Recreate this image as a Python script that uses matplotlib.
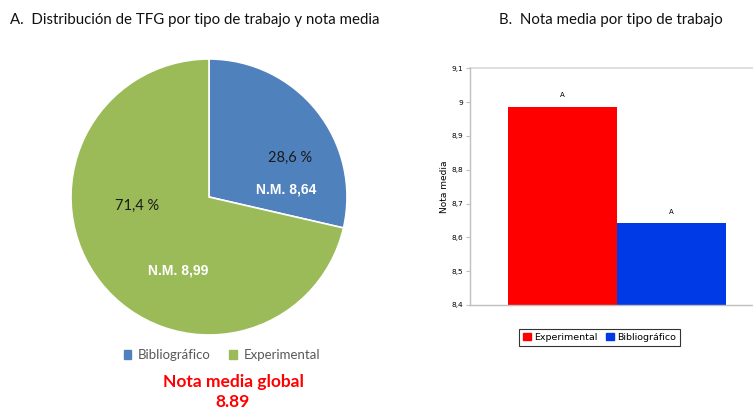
import matplotlib.pyplot as plt
from matplotlib.patches import Patch

# pie data
tipos = ["Bibliográfico", "Experimental"]
porcentajes = [28.6, 71.4]
notas_pie = ["8,64", "8,99"]
pie_colors = ["#4F81BD", "#9BBB59"]

# bar data
bar_cats = ["Experimental", "Bibliográfico"]
bar_vals = [8.987, 8.642]
bar_letters = ["A", "A"]
bar_colors = ["#FF0000", "#0039E6"]
yticks = [8.4, 8.5, 8.6, 8.7, 8.8, 8.9, 9.0, 9.1]
ytick_labels = ["8,4", "8,5", "8,6", "8,7", "8,8", "8,9", "9", "9,1"]

W, H = 753, 409
fig = plt.figure(figsize=(W / 100, H / 100), dpi=100)
plt.rcParams["font.family"] = ["Lato", "DejaVu Sans"]


def px(x, y, w, h):
    return [x / W, 1 - (y + h) / H, w / W, h / H]


# ---- A: pie ----
ax = fig.add_axes(px(71, 59, 276, 276))
ax.pie(porcentajes, colors=pie_colors, startangle=90, counterclock=False,
       wedgeprops=dict(edgecolor="white", linewidth=1.2))
ax.set_xlim(-1, 1)
ax.set_ylim(-1, 1)
ax.set_aspect("equal")
ax.axis("off")

ax.text(0.59, 0.28, "28,6 %", ha="center", va="center", fontsize=10.5, color="#1a1a1a")
ax.text(0.56, 0.055, "N.M. " + notas_pie[0], ha="center", va="center", fontsize=10,
        color="white", fontweight="bold", family=["Liberation Sans"])
ax.text(-0.52, -0.065, "71,4 %", ha="center", va="center", fontsize=10.5, color="#1a1a1a")
ax.text(-0.225, -0.53, "N.M. " + notas_pie[1], ha="center", va="center", fontsize=10,
        color="white", fontweight="bold", family=["Liberation Sans"])

fig.text(10 / W, 1 - 20 / H, "A.  Distribución de TFG por tipo de trabajo y nota media",
         fontsize=10.8, va="center", ha="left", color="#111111")

handles = [Patch(color=c) for c in pie_colors]
fig.legend(handles, tipos, loc="center", bbox_to_anchor=(222 / W, 1 - 355 / H),
           ncol=2, frameon=False, fontsize=9.5, handlelength=0.6, handleheight=0.6,
           handletextpad=0.5, columnspacing=1.4, labelcolor="#595959")

fig.text(233 / W, 1 - 382 / H, "Nota media global", color="#FF0000", fontsize=12.5,
         fontweight="bold", ha="center", va="center")
fig.text(233 / W, 1 - 402 / H, "8.89", color="#FF0000", fontsize=12.5,
         fontweight="bold", ha="center", va="center")

# ---- B: bars ----
bx = fig.add_axes(px(470, 68.3, 283, 236.7))
xs = range(len(bar_cats))
bx.bar(xs, [v - 8.4 for v in bar_vals], bottom=8.4, width=1.0, color=bar_colors,
       edgecolor="none")
for x, v, l in zip(xs, bar_vals, bar_letters):
    bx.text(x, v + 0.025, l, ha="center", va="bottom", fontsize=5,
            family=["DejaVu Sans"])
bx.set_xlim(-0.845, 1.75)
bx.set_ylim(8.4, 9.1)
bx.set_yticks(yticks)
bx.set_yticklabels(ytick_labels, fontsize=5.3, family=["DejaVu Sans"])
bx.set_xticks([])
bx.axhline(9.1, color="#d9d9d9", linewidth=1.2, zorder=0, clip_on=False)
for s in ["top", "right"]:
    bx.spines[s].set_visible(False)
for s in ["left", "bottom"]:
    bx.spines[s].set_color("#bfbfbf")
    bx.spines[s].set_linewidth(1)
bx.tick_params(axis="y", length=3, width=0.8, color="#bfbfbf", pad=2)
bx.set_ylabel("Nota media", fontsize=6.5, family=["DejaVu Sans"], labelpad=2)

leg = bx.legend([Patch(color=c) for c in bar_colors], bar_cats, loc="center",
                bbox_to_anchor=((599.5 - 470) / 283, (305 - 337.5) / 236.7),
                ncol=2, frameon=True, fancybox=False, edgecolor="black",
                handlelength=0.8, handleheight=0.8, handletextpad=0.3, columnspacing=1.0,
                borderpad=0.4, prop={"family": ["DejaVu Sans"], "size": 6.8})
leg.get_frame().set_linewidth(0.8)

fig.text(611 / W, 1 - 20 / H, "B.  Nota media por tipo de trabajo", fontsize=10.8,
         ha="center", va="center", color="#111111")

fig.savefig("out.png", dpi=100)
